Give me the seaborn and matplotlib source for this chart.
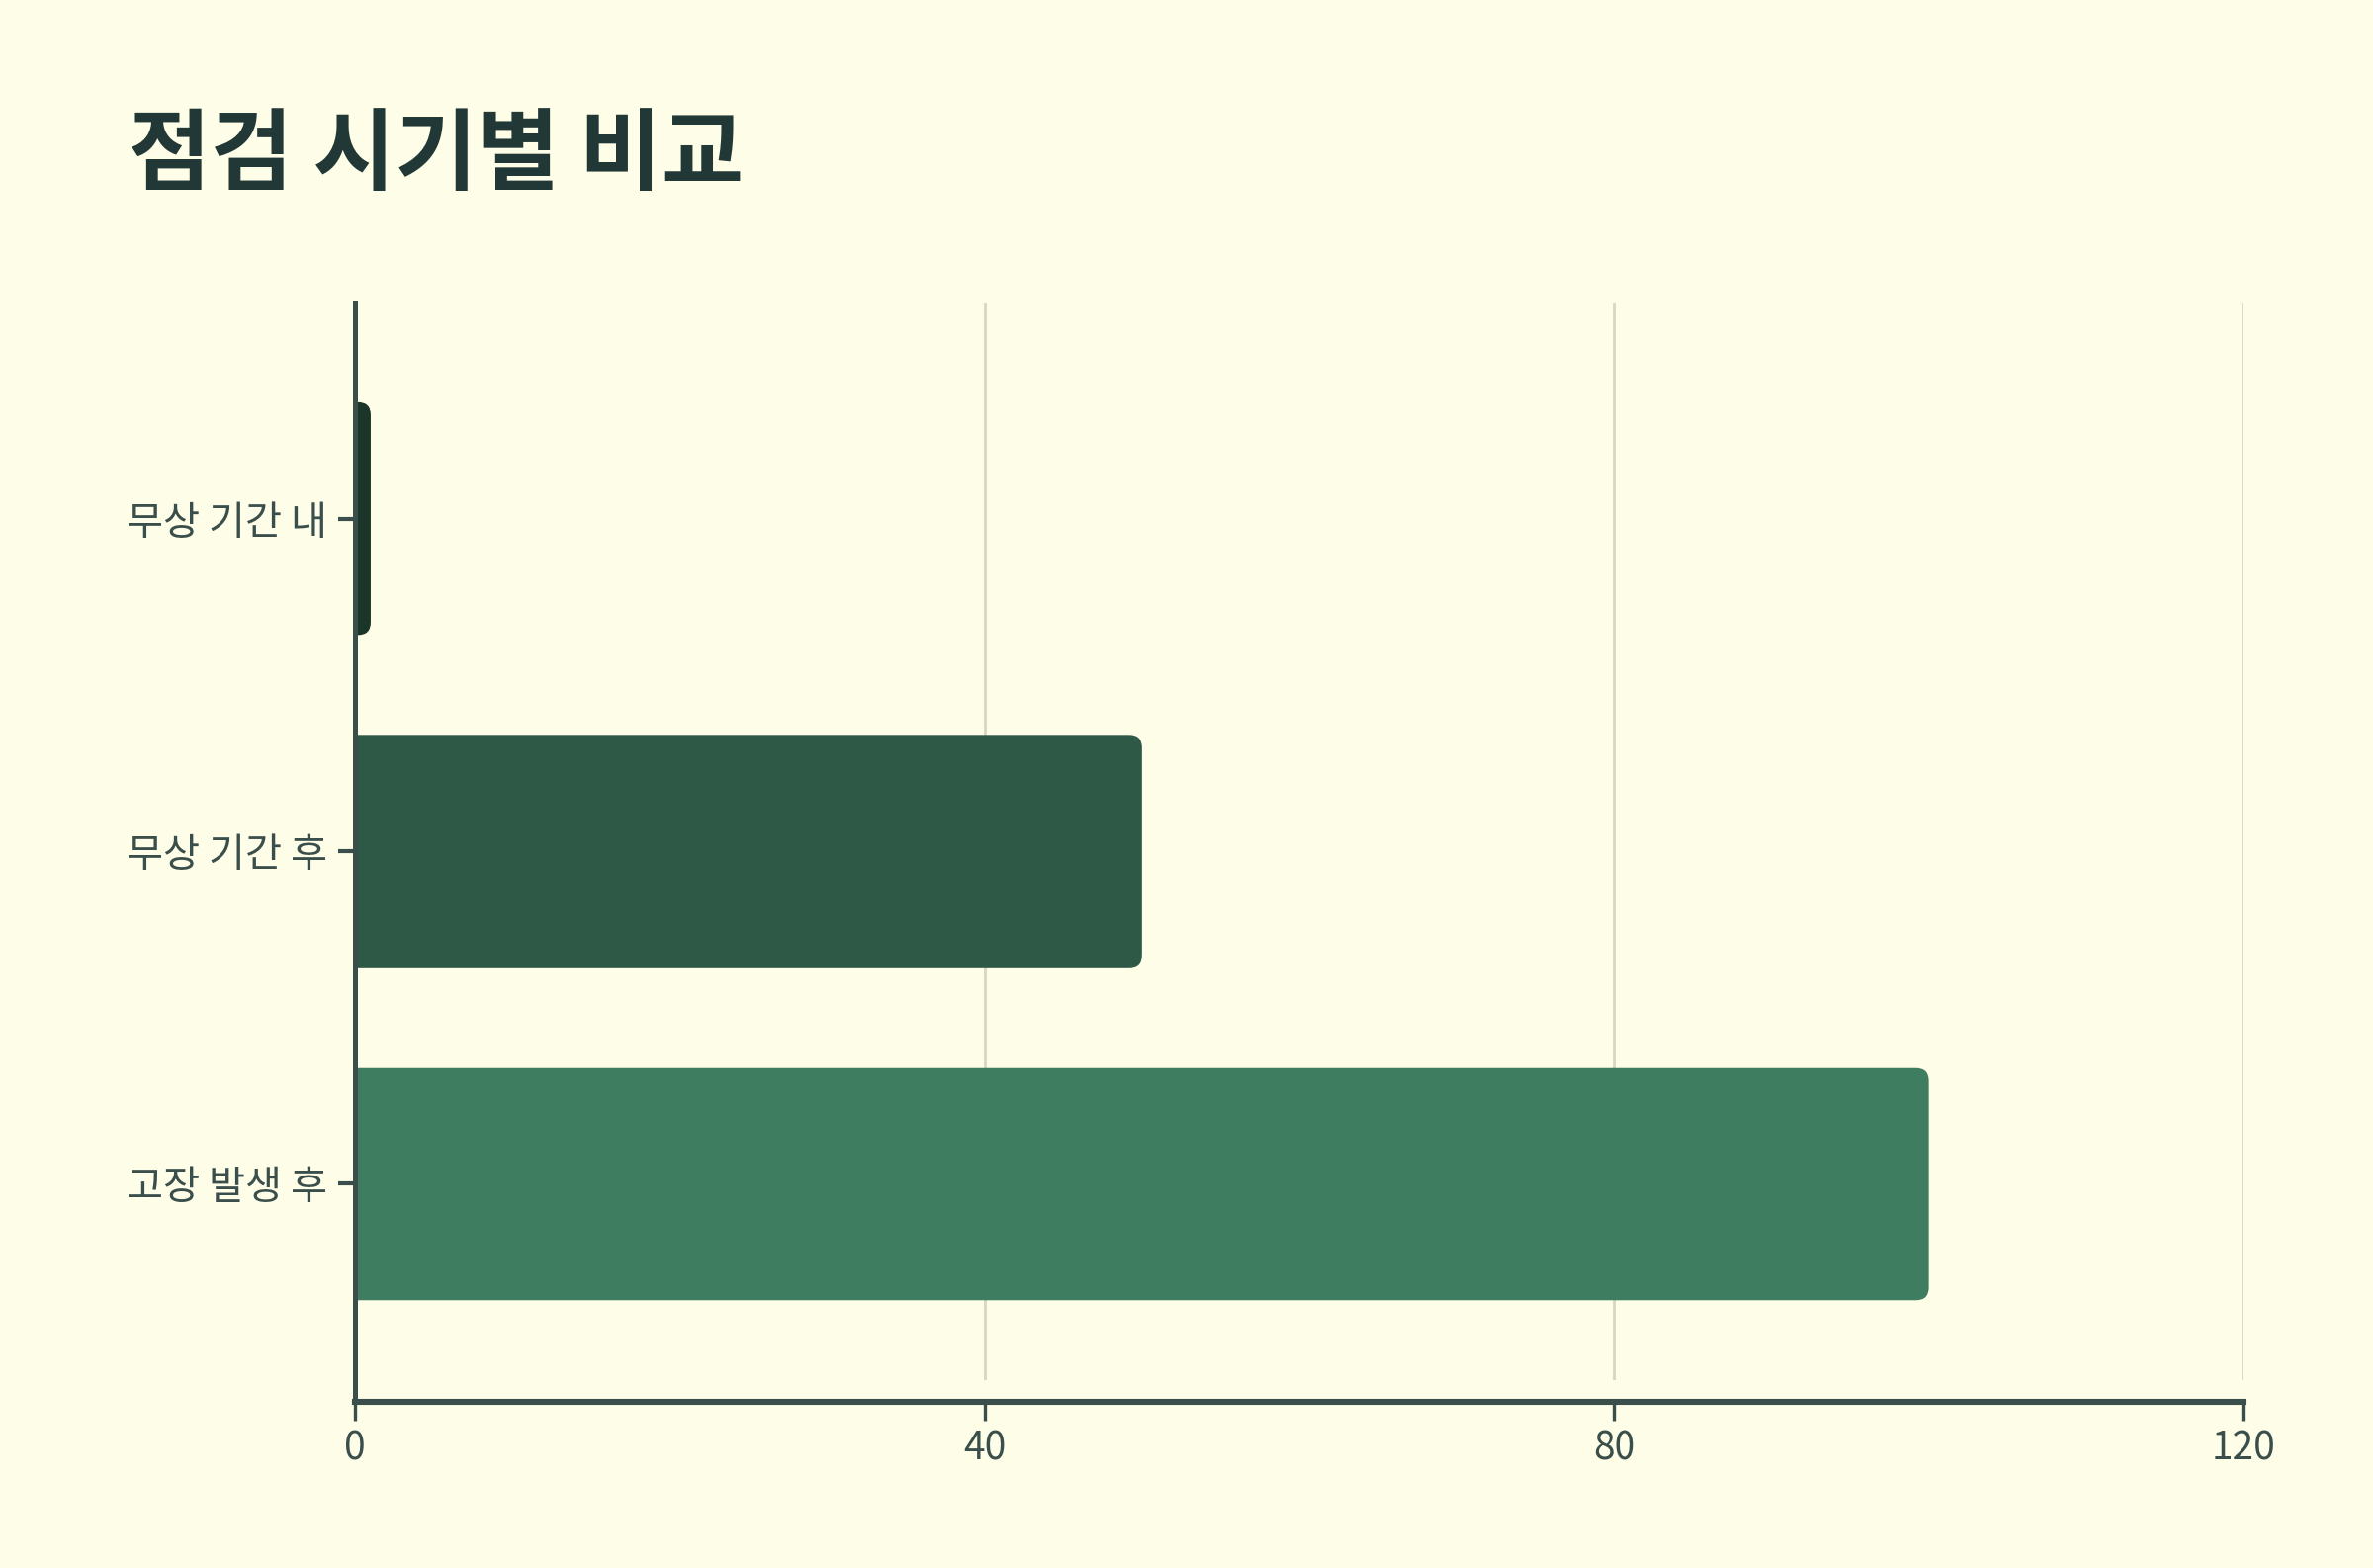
import matplotlib
matplotlib.use("Agg")
import matplotlib.pyplot as plt
import seaborn as sns
import pandas as pd
from matplotlib.patches import FancyBboxPatch
from matplotlib.lines import Line2D

# ---- data ----
categories = ["무상 기간 내", "무상 기간 후", "고장 발생 후"]
values = [1, 50, 100]
bar_colors = ["#1B3628", "#2D5946", "#3E7D5F"]
x_ticks = [0, 40, 80, 120]
title = "점검 시기별 비교"

BG = "#FEFDE7"
INK = "#3A4E4B"
TITLE_INK = "#223837"
GRID = "#D4D7C5"

sns.set_theme(style="white")
plt.rcParams["font.family"] = ["Noto Sans CJK KR", "DejaVu Sans"]

df = pd.DataFrame({"cat": categories, "val": values})

fig = plt.figure(figsize=(12, 7.93), dpi=200, facecolor=BG)
ax = fig.add_axes([0.1496, 0.1198, 0.9454 - 0.1496, 0.8071 - 0.1198])
ax.set_facecolor(BG)

sns.barplot(data=df, y="cat", x="val", hue="cat", palette=bar_colors,
            orient="h", width=0.70, legend=False, ax=ax, saturation=1)

ax.set_xlim(0, 120)
ax.set_ylim(2.59, -0.65)

# replace bars with right-rounded versions
fig.canvas.draw()
x_per_px = 120 / (ax.bbox.width)
y_per_px = 3.24 / (ax.bbox.height)
r_px = 13
r = r_px * x_per_px
aspect = y_per_px / x_per_px
for p in list(ax.patches):
    x0, y0 = p.get_x(), p.get_y()
    w, h = p.get_width(), p.get_height()
    fc = p.get_facecolor()
    p.remove()
    fb = FancyBboxPatch((x0 - r * 1.5, y0), w + r * 1.5, h,
                        boxstyle=f"round,pad=0,rounding_size={r}",
                        mutation_aspect=aspect, facecolor=fc, edgecolor="none",
                        zorder=2)
    ax.add_patch(fb)

ax.set_xticks(x_ticks)
ax.set_xticklabels([str(t) for t in x_ticks])
ax.grid(axis="x", color=GRID, linewidth=1.0, zorder=0)
ax.grid(axis="y", visible=False)
ax.set_axisbelow(True)

ax.set_xlabel("")
ax.set_ylabel("")

for s in ["top", "right"]:
    ax.spines[s].set_visible(False)
ax.spines["left"].set_color(INK)
ax.spines["left"].set_linewidth(1.8)
ax.spines["left"].set_zorder(3)
ax.spines["bottom"].set_color(INK)
ax.spines["bottom"].set_linewidth(2.2)
ax.spines["bottom"].set_position(("outward", 8))
ax.spines["bottom"].set_bounds(0, 120)

ax.add_line(Line2D([0, 0], [0, -0.0215], transform=ax.transAxes,
                   color=INK, linewidth=1.8, clip_on=False,
                   solid_capstyle="butt", zorder=3))

ax.tick_params(axis="x", which="both", bottom=True, length=7, width=1.2,
               color=INK, labelcolor=INK, labelsize=14, pad=3)
ax.tick_params(axis="y", which="both", left=True, length=6, width=1.5,
               color=INK, labelcolor=INK, labelsize=14.5, pad=4)

fig.text(130 / 2400, 1 - 158 / 1586, title, fontsize=32.5, fontweight="bold",
         color=TITLE_INK, ha="left", va="center")

fig.savefig("out.png", dpi=200, facecolor=BG)
